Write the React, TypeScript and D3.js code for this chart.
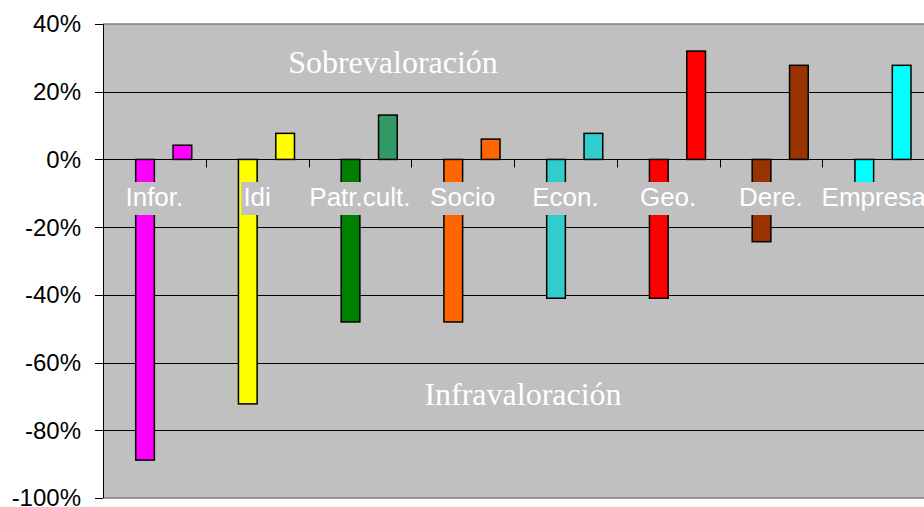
import React, { useEffect, useRef } from "react";
import * as d3 from "d3";

const categories = ["Infor.", "Idi", "Patr.cult.", "Socio", "Econ.", "Geo.", "Dere.", "Empresa"];
const infraValues = [-0.888, -0.722, -0.48, -0.48, -0.41, -0.41, -0.243, -0.1];
const sobreValues = [0.042, 0.077, 0.131, 0.06, 0.077, 0.32, 0.278, 0.278];
const infraColors = ["#FF00FF", "#FFFF00", "#008000", "#FF6600", "#33CCCC", "#FF0000", "#993300", "#00FFFF"];
const sobreColors = ["#FF00FF", "#FFFF00", "#339966", "#FF6600", "#33CCCC", "#FF0000", "#993300", "#00FFFF"];
const yTicks = [0.4, 0.2, 0, -0.2, -0.4, -0.6, -0.8, -1.0];
const annotTop = "Sobrevaloración";
const annotBottom = "Infravaloración";

const W = 924;
const H = 507;
const M = { left: 103, right: 925, top: 24, bottom: 498 };

export default function App() {
  const ref = useRef<SVGSVGElement | null>(null);

  useEffect(() => {
    const svg = d3.select(ref.current);
    svg.selectAll("*").remove();

    const x = d3.scaleBand<string>().domain(categories).range([M.left, M.right]).padding(0);
    const slot = d3.scaleBand<number>().domain([0, 1, 2, 3]).range([0, x.bandwidth()]).paddingInner(0).paddingOuter(0.75);
    const y = d3.scaleLinear().domain([-1, 0.4]).range([M.bottom, M.top]);
    const fmt = (d: number) => d3.format(".0%")(d).replace("\u2212", "-");

    // plot background
    svg.append("rect").attr("x", M.left).attr("y", M.top).attr("width", M.right - M.left).attr("height", M.bottom - M.top).attr("fill", "#C0C0C0");

    // gridlines
    svg.append("g").selectAll("line").data(yTicks.filter((t) => t < 0.39 && t > -0.99)).join("line")
      .attr("x1", M.left).attr("x2", M.right)
      .attr("y1", (d) => Math.round(y(d)) + 0.5).attr("y2", (d) => Math.round(y(d)) + 0.5)
      .attr("stroke", "#000").attr("stroke-width", 1);

    // border top/bottom
    svg.append("line").attr("x1", M.left).attr("x2", M.right).attr("y1", M.top).attr("y2", M.top).attr("stroke", "#808080").attr("stroke-width", 1.5);
    svg.append("line").attr("x1", M.left).attr("x2", M.right).attr("y1", M.bottom).attr("y2", M.bottom).attr("stroke", "#808080").attr("stroke-width", 1.5);

    // bars
    const g = svg.append("g");
    g.selectAll("rect.neg").data(categories).join("rect").attr("class", "neg")
      .attr("x", (d) => (x(d) as number) + (slot(1) as number))
      .attr("width", slot.bandwidth())
      .attr("y", y(0))
      .attr("height", (d, i) => y(infraValues[i]) - y(0))
      .attr("fill", (d, i) => infraColors[i])
      .attr("stroke", "#000").attr("stroke-width", 1.5);
    g.selectAll("rect.pos").data(categories).join("rect").attr("class", "pos")
      .attr("x", (d) => (x(d) as number) + (slot(3) as number))
      .attr("width", slot.bandwidth())
      .attr("y", (d, i) => y(sobreValues[i]))
      .attr("height", (d, i) => y(0) - y(sobreValues[i]))
      .attr("fill", (d, i) => sobreColors[i])
      .attr("stroke", "#000").attr("stroke-width", 1.5);

    // zero line + category ticks
    const y0 = Math.round(y(0)) + 0.5;
    svg.append("line").attr("x1", M.left).attr("x2", M.right).attr("y1", y0).attr("y2", y0).attr("stroke", "#000").attr("stroke-width", 1);
    svg.append("g").selectAll("line").data(categories.slice(1)).join("line")
      .attr("x1", (d) => Math.round(x(d) as number) + 0.5).attr("x2", (d) => Math.round(x(d) as number) + 0.5)
      .attr("y1", y0).attr("y2", y0 + 8).attr("stroke", "#000").attr("stroke-width", 1);

    // y axis
    svg.append("line").attr("x1", M.left + 0.5).attr("x2", M.left + 0.5).attr("y1", M.top).attr("y2", M.bottom).attr("stroke", "#000").attr("stroke-width", 1);
    const ya = svg.append("g");
    ya.selectAll("line").data(yTicks).join("line")
      .attr("x1", M.left - 8).attr("x2", M.left)
      .attr("y1", (d) => Math.round(y(d)) + 0.5).attr("y2", (d) => Math.round(y(d)) + 0.5)
      .attr("stroke", "#000").attr("stroke-width", 1);
    ya.selectAll("text").data(yTicks).join("text")
      .attr("x", 81).attr("y", (d) => y(d)).attr("dy", "0.35em")
      .attr("text-anchor", "end")
      .attr("font-family", "'Liberation Sans', Arial, sans-serif").attr("font-size", 24)
      .attr("fill", "#000")
      .text((d) => fmt(d));

    // category labels with background boxes
    const lab = svg.append("g");
    categories.forEach((c) => {
      const cx = (x(c) as number) + x.bandwidth() / 2;
      const rect = lab.append("rect").attr("fill", "#C0C0C0");
      const t = lab.append("text")
        .attr("x", cx).attr("y", 206)
        .attr("text-anchor", "middle")
        .attr("font-family", "'Liberation Sans', Arial, sans-serif").attr("font-size", 26)
        .attr("fill", "#FFFFFF")
        .text(c);
      const w = (t.node() as SVGTextElement).getComputedTextLength();
      rect.attr("x", cx - w / 2 - 2).attr("width", w + 4).attr("y", 182).attr("height", 33);
    });

    // annotations
    svg.append("text").attr("x", 393).attr("y", 73)
      .attr("text-anchor", "middle").attr("font-family", "'Liberation Serif', 'Times New Roman', serif")
      .attr("font-size", 32).attr("fill", "#FFFFFF").text(annotTop);
    svg.append("text").attr("x", 523).attr("y", 405)
      .attr("text-anchor", "middle").attr("font-family", "'Liberation Serif', 'Times New Roman', serif")
      .attr("font-size", 32).attr("fill", "#FFFFFF").text(annotBottom);
  }, []);

  return (
    <svg ref={ref} width={W} height={H} style={{ position: "fixed", left: 0, top: 0, background: "#fff" }} />
  );
}
